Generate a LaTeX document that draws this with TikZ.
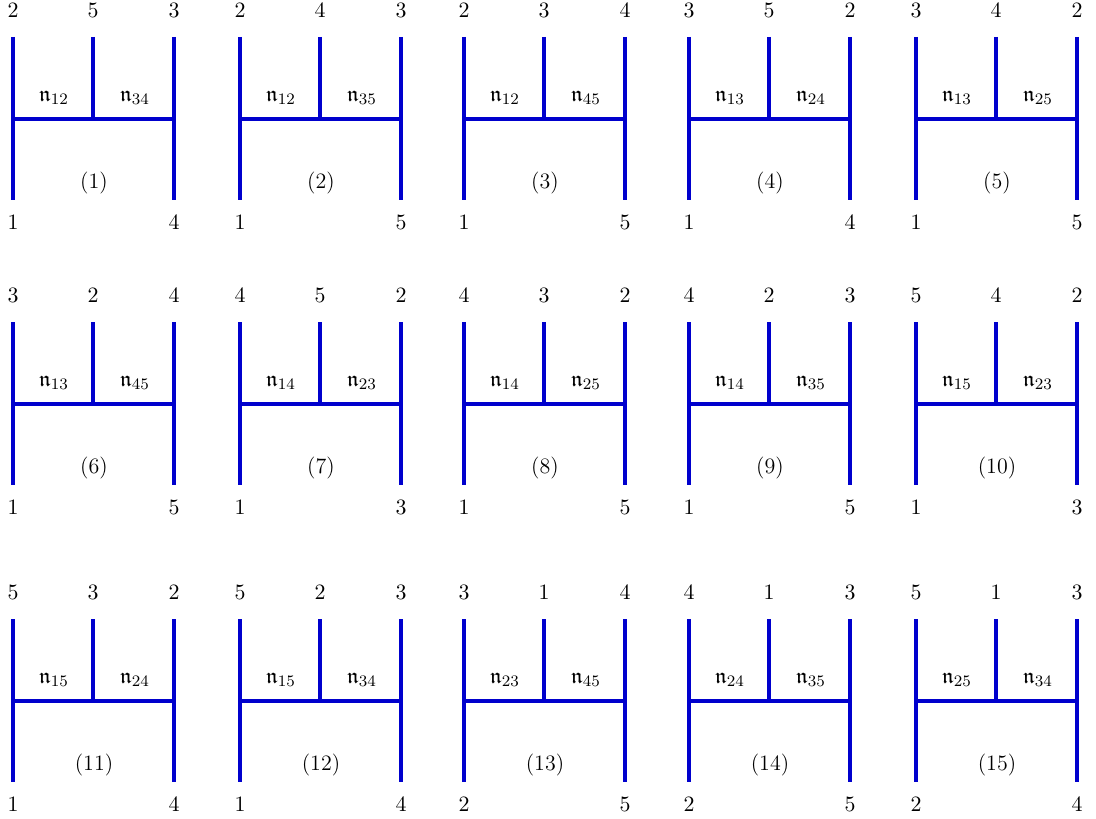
\documentclass[tikz,border=0pt]{standalone}
\usepackage{amsmath,amssymb}
\usetikzlibrary{positioning}

\definecolor{hblue}{RGB}{0,0,205}

\begin{document}
\begin{tikzpicture}[x=0.5pt,y=-0.5pt,
    every node/.style={font=\fontsize{11}{13}\selectfont},
    leg/.style={draw=hblue, line width=2pt},
    vlbl/.style={inner sep=0pt}]

% Fix the page size
\useasboundingbox (0,0) rectangle (1096,818);

% Draw the fifteen H graphs
\foreach \k/\tl/\tm/\tr/\bl/\br/\na/\nb in {
    1/2/5/3/1/4/12/34, 2/2/4/3/1/5/12/35, 3/2/3/4/1/5/12/45,
    4/3/5/2/1/4/13/24, 5/3/4/2/1/5/13/25, 6/3/2/4/1/5/13/45,
    7/4/5/2/1/3/14/23, 8/4/3/2/1/5/14/25, 9/4/2/3/1/5/14/35,
    10/5/4/2/1/3/15/23, 11/5/3/2/1/4/15/24, 12/5/2/3/1/4/15/34,
    13/3/1/4/2/5/23/45, 14/4/1/3/2/5/24/35, 15/5/1/3/2/4/25/34}
{
    \pgfmathtruncatemacro{\col}{mod(\k-1,5)}
    \pgfmathtruncatemacro{\row}{(\k-1)/5}
    \pgfmathsetmacro{\xo}{{13,240,464,689,916}[\col]}
    \pgfmathsetmacro{\yo}{{37,322,619}[\row]}
    \begin{scope}[shift={(\xo,\yo)}]
        % corners and junctions
        \coordinate (tl\k) at (0,0);
        \coordinate (bl\k) at (0,163);
        \coordinate (tr\k) at (161,0);
        \coordinate (br\k) at (161,163);
        \coordinate (tm\k) at (80,0);
        \coordinate (ml\k) at (0,82);
        \coordinate (mm\k) at (80,82);
        \coordinate (mr\k) at (161,82);

        % legs
        \draw[leg] (tl\k) -- (bl\k);
        \draw[leg] (tr\k) -- (br\k);
        \draw[leg] (tm\k) -- (mm\k);
        \draw[leg] (ml\k) -- (mr\k);

        % vertex labels
        \node[vlbl] (ntl\k) at (0,-27) {$\tl$};
        \node[vlbl] (ntm\k) at (80,-27) {$\tm$};
        \node[vlbl] (ntr\k) at (161,-27) {$\tr$};
        \node[vlbl] (nbl\k) at (0,185) {$\bl$};
        \node[vlbl] (nbr\k) at (161,185) {$\br$};

        % propagator labels
        \node (na\k) at (41,61) {$\mathfrak{n}_{\na}$};
        \node (nb\k) at (122,61) {$\mathfrak{n}_{\nb}$};

        % graph number
        \node (num\k) at (81,146) {(\k)};
    \end{scope}
}

\end{tikzpicture}
\end{document}
